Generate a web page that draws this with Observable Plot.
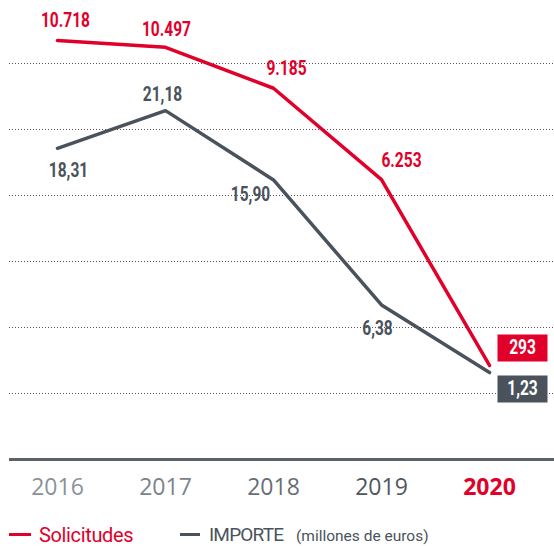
<!DOCTYPE html>
<html><head><meta charset="utf-8">
<script src="https://cdn.jsdelivr.net/npm/d3@7"></script>
<script src="https://cdn.jsdelivr.net/npm/@observablehq/plot@0.6"></script>
<style>
body{margin:0;background:#fff;}
#chart svg{display:block;}
#legend{position:relative;width:554px;height:46px;font-family:Roboto,sans-serif;overflow:visible;}
#legend .dash{position:absolute;height:3px;}
#legend .txt{position:absolute;top:26px;line-height:18px;white-space:nowrap;font-size:20px;}
#legend .small{font-size:15.5px;line-height:16px;top:28px;}
</style></head><body>
<div id="chart"></div>
<div id="legend">
  <div class="dash" style="left:9px;width:22px;top:33px;background:#e1002a"></div>
  <div class="txt" style="left:39px;color:#e1002a;letter-spacing:-0.35px">Solicitudes</div>
  <div class="dash" style="left:180px;width:20px;top:33px;background:#4a535b"></div>
  <div class="txt" style="left:209px;color:#4a535b;font-size:19px;letter-spacing:-0.8px">IMPORTE</div>
  <div class="txt small" style="left:296px;color:#4a535b">(millones de euros)</div>
</div>
<script>
const years = ["2016", "2017", "2018", "2019", "2020"];
const solicitudes = [10718, 10497, 9185, 6253, 293];
const solicitudesLabels = ["10.718", "10.497", "9.185", "6.253", "293"];
const importe = [18.31, 21.18, 15.90, 6.38, 1.23];
const importeLabels = ["18,31", "21,18", "15,90", "6,38", "1,23"];
const gridTicks = [1, 2, 3, 4, 5, 6];

const RED = "#e1002a", GRAY = "#4a535b";
const yearPalette = ["#8a9299", "#7b838a", "#676e75", "#4f575e", RED];
const labelFont = "Roboto, sans-serif";

// two value axes mapped onto a shared grid-unit scale
const importeToGrid = d3.scaleLinear().domain([0, 25]).range([1.0727, 6.0462]);
const solicitudesToGrid = d3.scaleLinear().domain([0, 12000]).range([1.2864, 6.9546]);

const rows = years.map((year, i) => ({
  year,
  solicitudes: solicitudes[i],
  importe: importe[i],
  sLabel: solicitudesLabels[i],
  iLabel: importeLabels[i],
  gs: solicitudesToGrid(solicitudes[i]),
  gi: importeToGrid(importe[i]),
  yearColor: yearPalette[i]
}));

const lbl = (i, y, text, fill, dx, dy) => Plot.text([rows[i]], {
  x: "year", y, text, fill, dx, dy,
  fontSize: 21, fontWeight: "bold", fontFamily: labelFont, lineAnchor: "middle"
});
const boxSymbol = (x, y, w, h) => ({draw(ctx) { ctx.rect(x, y, w, h); }});

const chart = Plot.plot({
  width: 554, height: 500,
  marginLeft: 9, marginRight: 0, marginTop: 0, marginBottom: 41,
  x: {type: "point", domain: years, range: [56, 490], padding: 0, axis: null},
  y: {domain: [0, 459 / 66], axis: null},
  color: {type: "identity"},
  style: {background: "transparent", overflow: "visible"},
  marks: [
    Plot.ruleY(gridTicks, {stroke: "#555", strokeWidth: 1, strokeDasharray: "1,2"}),
    Plot.ruleY([0], {stroke: "#5b6269", strokeWidth: 3}),
    Plot.line(rows, {x: "year", y: "gi", stroke: GRAY, strokeWidth: 3.5, strokeLinejoin: "miter"}),
    Plot.line(rows, {x: "year", y: "gs", stroke: RED, strokeWidth: 3.5, strokeLinejoin: "miter"}),
    // year axis
    Plot.text(rows.slice(0, 4), {x: "year", y: 0, dy: 28, text: "year", fill: "yearColor",
      fontSize: 23, fontFamily: "'Open Sans', sans-serif", lineAnchor: "middle"}),
    Plot.text(rows.slice(4), {x: "year", y: 0, dy: 28, text: "year", fill: "yearColor",
      fontSize: 23, fontWeight: "bold", fontFamily: "'Open Sans', sans-serif", lineAnchor: "middle"}),
    // solicitudes labels
    lbl(0, "gs", "sLabel", RED, 8, -20),
    lbl(1, "gs", "sLabel", RED, 1, -18.5),
    lbl(2, "gs", "sLabel", RED, 13, -20),
    lbl(3, "gs", "sLabel", RED, 20, -19),
    // importe labels
    lbl(0, "gi", "iLabel", GRAY, 11, 22),
    lbl(1, "gi", "iLabel", GRAY, -3, -16),
    lbl(2, "gi", "iLabel", GRAY, -23, 14.5),
    lbl(3, "gi", "iLabel", GRAY, -4, 23),
    // 2020 boxed labels
    Plot.dot([rows[4]], {x: "year", y: "gs", symbol: boxSymbol(8, -31, 50, 27), fill: RED, stroke: "none"}),
    Plot.dot([rows[4]], {x: "year", y: "gi", symbol: boxSymbol(8, 3, 50, 27), fill: GRAY, stroke: "none"}),
    lbl(4, "gs", "sLabel", "white", 33, -18),
    lbl(4, "gi", "iLabel", "white", 33, 16)
  ]
});
// condense the value labels horizontally (narrow label face)
chart.querySelectorAll('g[font-family="Roboto, sans-serif"] text').forEach(t => {
  const xa = t.getAttribute("x");
  let pre = "";
  if (xa !== null && isFinite(+xa)) { pre = ` translate(${+xa},0)`; t.removeAttribute("x"); }
  const old = t.getAttribute("transform") || "";
  t.setAttribute("transform", `${old}${pre} scale(0.74,1)`);
});
document.getElementById("chart").appendChild(chart);
</script>
</body></html>
